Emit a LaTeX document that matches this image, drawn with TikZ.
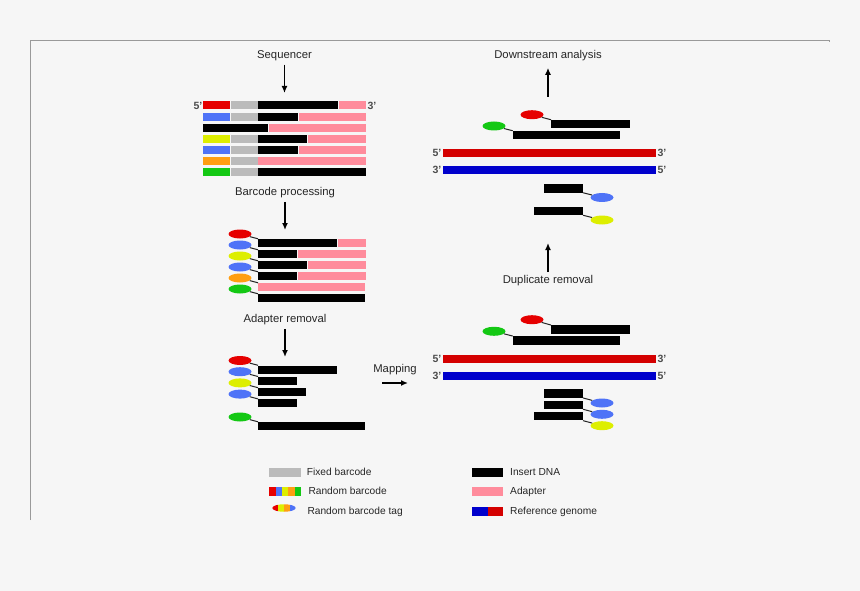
\documentclass[tikz,border=0pt]{standalone}
\usepackage{fontspec}
\setmainfont{Liberation Sans}
\usetikzlibrary{shapes.geometric, arrows.meta, positioning}

\definecolor{cred}{HTML}{E60000}
\definecolor{cblue}{HTML}{4F73F7}
\definecolor{cyel}{HTML}{DDEE00}
\definecolor{corange}{HTML}{FF9E12}
\definecolor{cgreen}{HTML}{14C814}
\definecolor{cgray}{HTML}{BBBBBB}
\definecolor{cpink}{HTML}{FF8C9C}
\definecolor{gred}{HTML}{D40000}
\definecolor{gblue}{HTML}{0000CC}
\definecolor{bg}{HTML}{F6F6F6}
\definecolor{framegray}{HTML}{9A9A9A}

\begin{document}
\begin{tikzpicture}[x=1pt, y=-1pt,
    lbl/.style={font=\fontsize{11.3}{13}\selectfont, text=black!85},
    key/.style={font=\fontsize{10.2}{12}\selectfont, anchor=west, inner sep=0, text height=8pt, text depth=2pt, text=black!85},
    primelbl/.style={font=\fontsize{10.5}{12}\selectfont\bfseries, text=black!70, inner sep=0},
    bar/.style={rectangle, inner sep=0, minimum height=8pt, anchor=west},
    tag/.style={ellipse, inner sep=0, minimum width=23pt, minimum height=9pt},
    link/.style={line width=1pt, black!85},
    arrow/.style={-{Latex[length=7pt,width=6pt]}, line width=1.6pt}
]
\fill[bg] (0,0) rectangle (860,591);
\draw[framegray, line width=1pt] (30.5,520) -- (30.5,40.5) -- (829.5,40.5) -- (829.5,42);

% step labels
\node[lbl] (seq) at (284.5,56) {Sequencer};
\coordinate (seq-end) at (284.5,93);
\draw[arrow] (seq) -- (seq-end);
\node[lbl] (bcp) at (285,193) {Barcode processing};
\coordinate (bcp-end) at (285,230);
\draw[arrow] (bcp) -- (bcp-end);
\node[lbl] (adr) at (285,320) {Adapter removal};
\coordinate (adr-end) at (285,357);
\draw[arrow] (adr) -- (adr-end);
\node[lbl] (dsa) at (548,56) {Downstream analysis};
\coordinate (dsa-start) at (548,97);
\draw[arrow, shorten >=3pt] (dsa-start) -- (dsa);
\node[lbl] (dup) at (548,281) {Duplicate removal};
\coordinate (dup-end) at (548,243);
\draw[arrow] (dup) -- (dup-end);
\coordinate (map-start) at (382,383);
\coordinate (map-end) at (408,383);
\draw[arrow] (map-start) -- node[lbl, above=4pt] (map) {Mapping} (map-end);

% raw reads
\node[primelbl] (seq-p5) at (198,105.5) {5'};
\node[primelbl] (seq-p3) at (372,105.5) {3'};
\foreach \i/\y/\c/\x in {1/105.5/cred/338, 2/116.6/cblue/298, 4/138.8/cyel/307, 5/149.9/cblue/298} {
  \node[bar, fill=\c, minimum width=27pt] (rd\i-c) at (203,\y) {};
  \node[bar, fill=cgray, minimum width=27pt] (rd\i-g) at (231,\y) {};
  \node[bar, fill=black, minimum width=\x-258] (rd\i-d) at (258,\y) {};
  \node[bar, fill=cpink, minimum width=365-\x] (rd\i-a) at (\x+1,\y) {};
}
\node[bar, fill=black, minimum width=65pt] (rd3-d) at (203,127.7) {};
\node[bar, fill=cpink, minimum width=97pt] (rd3-a) at (269,127.7) {};
\node[bar, fill=corange, minimum width=27pt] (rd6-c) at (203,161) {};
\node[bar, fill=cgray, minimum width=27pt] (rd6-g) at (231,161) {};
\node[bar, fill=cpink, minimum width=108pt] (rd6-a) at (258,161) {};
\node[bar, fill=cgreen, minimum width=27pt] (rd7-c) at (203,172.1) {};
\node[bar, fill=cgray, minimum width=27pt] (rd7-g) at (231,172.1) {};
\node[bar, fill=black, minimum width=108pt] (rd7-d) at (258,172.1) {};

% tagged reads
\foreach \i/\y/\c/\x in {1/243/cred/337, 2/254/cblue/297, 3/265/cyel/307, 4/276/cblue/297} {
  \node[tag, fill=\c] (bp\i-t) at (240,\y-9) {};
  \node[bar, fill=black, minimum width=\x-258] (bp\i-d) at (258,\y) {};
  \node[bar, fill=cpink, minimum width=365-\x] (bp\i-a) at (\x+1,\y) {};
  \draw[link] (bp\i-t) -- (bp\i-d.north west);
}
\node[tag, fill=corange] (bp5-t) at (240,278) {};
\node[bar, fill=cpink, minimum width=107pt] (bp5-a) at (258,287) {};
\draw[link] (bp5-t) -- (bp5-a.north west);
\node[tag, fill=cgreen] (bp6-t) at (240,289) {};
\node[bar, fill=black, minimum width=107pt] (bp6-d) at (258,298) {};
\draw[link] (bp6-t) -- (bp6-d.north west);

% trimmed reads
\foreach \i/\y/\c/\x in {1/369.5/cred/337, 2/380.7/cblue/297, 3/391.9/cyel/306, 4/403.1/cblue/297, 5/426/cgreen/365} {
  \node[tag, fill=\c] (ar\i-t) at (240,\y-9) {};
  \node[bar, fill=black, minimum width=\x-258] (ar\i-d) at (258,\y) {};
  \draw[link] (ar\i-t) -- (ar\i-d.north west);
}

% mapped reads
\node[tag, fill=cred] (mp1-t) at (532,319.7) {};
\node[bar, fill=black, minimum width=79pt, minimum height=8.5pt] (mp1-d) at (551,329.5) {};
\draw[link] (mp1-t) -- (mp1-d.north west);
\node[tag, fill=cgreen] (mp2-t) at (494,331.3) {};
\node[bar, fill=black, minimum width=106.6pt, minimum height=8.5pt] (mp2-d) at (512.7,340.5) {};
\draw[link] (mp2-t) -- (mp2-d.north west);
\node[bar, fill=gred, minimum width=213.4pt] (mp-fw) at (442.3,359) {};
\node[bar, fill=gblue, minimum width=213.4pt] (mp-rv) at (442.3,375.8) {};
\node[primelbl] (mp-fw5) at (437,359) {5'};
\node[primelbl] (mp-fw3) at (662,359) {3'};
\node[primelbl] (mp-rv3) at (437,375.8) {3'};
\node[primelbl] (mp-rv5) at (662,375.8) {5'};
\foreach \i/\y/\c/\w in {3/393.5/cblue/39, 4/404.8/cblue/39, 5/416.2/cyel/49} {
  \node[bar, anchor=east, fill=black, minimum width=\w, minimum height=8.5pt] (mp\i-d) at (583,\y) {};
  \node[tag, fill=\c] (mp\i-t) at (602,\y+9.5) {};
  \draw[link] (mp\i-d.south east) -- (mp\i-t);
}

% deduplicated reads
\node[tag, fill=cred] (dd1-t) at (532,114.7) {};
\node[bar, fill=black, minimum width=79pt, minimum height=8.5pt] (dd1-d) at (551,124.2) {};
\draw[link] (dd1-t) -- (dd1-d.north west);
\node[tag, fill=cgreen] (dd2-t) at (494,126) {};
\node[bar, fill=black, minimum width=106.6pt, minimum height=8.5pt] (dd2-d) at (512.7,135.2) {};
\draw[link] (dd2-t) -- (dd2-d.north west);
\node[bar, fill=gred, minimum width=213.4pt] (dd-fw) at (442.3,153.3) {};
\node[bar, fill=gblue, minimum width=213.4pt] (dd-rv) at (442.3,170) {};
\node[primelbl] (dd-fw5) at (437,153.3) {5'};
\node[primelbl] (dd-fw3) at (662,153.3) {3'};
\node[primelbl] (dd-rv3) at (437,170) {3'};
\node[primelbl] (dd-rv5) at (662,170) {5'};
\foreach \i/\y/\c/\w in {3/188.3/cblue/39, 4/210.8/cyel/48.7} {
  \node[bar, anchor=east, fill=black, minimum width=\w, minimum height=8.5pt] (dd\i-d) at (583,\y) {};
  \node[tag, fill=\c] (dd\i-t) at (602,\y+9.2) {};
  \draw[link] (dd\i-d.south east) -- (dd\i-t);
}

% legend
\node[bar, fill=cgray, minimum width=31.7pt, minimum height=8.4pt] (k-fix) at (269,472.5) {};
\node[key] (k-fix-l) at (306.7,472.5) {Fixed barcode};
\foreach \k/\c in {0/cred, 1/cblue, 2/cyel, 3/corange, 4/cgreen}
  \node[bar, fill=\c, minimum width=6.4pt, minimum height=9pt] (k-rb\k) at (269+6.34*\k,491.7) {};
\node[key] (k-rb-l) at (308.3,491.7) {Random barcode};
\node[tag, minimum width=23.4pt, minimum height=7.5pt, path picture={
  \foreach \k/\c in {0/cred, 1/cyel, 2/corange, 3/cblue}
    \fill[\c] ([xshift=\k*6pt]path picture bounding box.north west) rectangle ++(6pt,-10pt);
}] (k-tag) at (284,508) {};
\node[key] (k-tag-l) at (307.3,511) {Random barcode tag};
\node[bar, fill=black, minimum width=31pt, minimum height=8.6pt] (k-ins) at (471.7,472.3) {};
\node[key] (k-ins-l) at (510,472.3) {Insert DNA};
\node[bar, fill=cpink, minimum width=31pt, minimum height=8.6pt] (k-ad) at (471.7,491.7) {};
\node[key] (k-ad-l) at (510,491.7) {Adapter};
\node[bar, fill=gblue, minimum width=16pt, minimum height=9pt] (k-gb) at (471.7,511.2) {};
\node[bar, fill=gred, minimum width=15pt, minimum height=9pt] (k-gr) at (487.7,511.2) {};
\node[key] (k-ref-l) at (510,511.2) {Reference genome};
\end{tikzpicture}
\end{document}
